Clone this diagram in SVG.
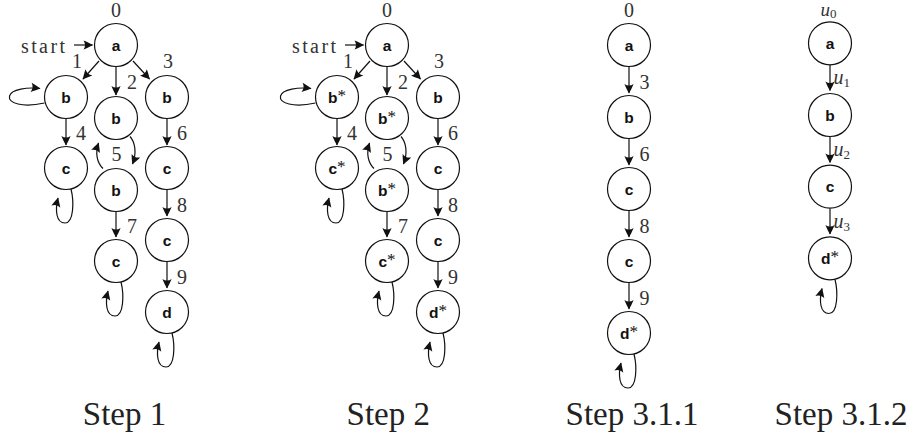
<svg xmlns="http://www.w3.org/2000/svg" width="919" height="441" viewBox="0 0 919 441">
  <defs>
    <marker id="arr" viewBox="-10 -6 11 12" refX="0" refY="0" markerWidth="11" markerHeight="12" markerUnits="userSpaceOnUse" orient="auto">
      <path d="M0.6 0 C-2 -1.2 -5.5 -3.3 -9 -4.6 C-7 -1.6 -7 1.6 -9 4.6 C-5.5 3.3 -2 1.2 0.6 0 Z" fill="#111"/>
    </marker>
  </defs>
  <style>
    .node circle { fill: #fff; stroke: #111; stroke-width: 1.2; }
    .node text { font-family: "Liberation Sans", Arial, sans-serif; font-weight: bold; font-size: 15.5px; text-anchor: middle; fill: #111; }
    .edge { fill: none; stroke: #111; stroke-width: 1.2; marker-end: url(#arr); }
    .star { font-family: "Liberation Serif", "Times New Roman", serif; font-weight: normal; font-size: 17px; }
    .num { font-family: "Liberation Serif", "Times New Roman", serif; font-size: 20px; text-anchor: middle; fill: #333; }
    .u { font-family: "Liberation Serif", "Times New Roman", serif; font-style: italic; font-size: 20px; fill: #333; }
    .sub { font-style: normal; font-size: 13px; }
    .cap { font-family: "Liberation Serif", "Times New Roman", serif; font-size: 33px; text-anchor: middle; fill: #222; }
  </style>
  <rect width="919" height="441" fill="#fff"/>

  <!-- Step 1 automaton -->
  <g id="step1">
    <g id="s1-connectors">
      <path class="edge" d="M74 45 L92.5 45"/>
      <path class="edge" d="M99 61 L83 79"/>
      <path class="edge" d="M116 66.5 L116 95"/>
      <path class="edge" d="M133 61 L149.5 79"/>
      <path class="edge" d="M66 118.5 L66 145"/>
      <path class="edge" d="M167 118.5 L167 145"/>
      <path class="edge" d="M130 136.5 C135 142 137 153 132.5 164"/>
      <path class="edge" d="M103 168.5 C97 163 95 153 98.5 143"/>
      <path class="edge" d="M167 189.5 L167 216"/>
      <path class="edge" d="M116 211.5 L116 237"/>
      <path class="edge" d="M167 261.5 L167 288"/>
      <path class="edge" d="M44.5 103 C22 108 8 103 9.5 96 C11 89 28 87 40 88.5"/>
      <path class="edge" transform="translate(66,168)" d="M5 21 C8 33 8 55 -1 55 C-10 55 -11 42 -8 30"/>
      <path class="edge" transform="translate(116,261)" d="M5 21 C8 33 8 55 -1 55 C-10 55 -11 42 -8 30"/>
      <path class="edge" transform="translate(167,312)" d="M5 21 C8 33 8 55 -1 55 C-10 55 -11 42 -8 30"/>
    </g>
    <g id="s1-labels">
      <text class="num" x="43" y="53" textLength="44">start</text>
      <text class="num" x="116" y="16.5">0</text>
      <text class="num" x="77" y="68">1</text>
      <text class="num" x="132" y="89">2</text>
      <text class="num" x="168" y="68">3</text>
      <text class="num" x="81" y="140">4</text>
      <text class="num" x="116.5" y="160.5">5</text>
      <text class="num" x="182" y="140">6</text>
      <text class="num" x="132" y="233">7</text>
      <text class="num" x="182" y="211.5">8</text>
      <text class="num" x="182" y="284">9</text>
    </g>
    <g id="s1-a" class="node"><circle cx="116" cy="45" r="21.5"/><text x="116" y="50.5">a</text></g>
    <g id="s1-b1" class="node"><circle cx="66" cy="97" r="21.5"/><text x="66" y="102.5">b</text></g>
    <g id="s1-b2" class="node"><circle cx="116" cy="118" r="21.5"/><text x="116" y="123.5">b</text></g>
    <g id="s1-b3" class="node"><circle cx="167" cy="97" r="21.5"/><text x="167" y="102.5">b</text></g>
    <g id="s1-c1" class="node"><circle cx="66" cy="168" r="21.5"/><text x="66" y="173.5">c</text></g>
    <g id="s1-b4" class="node"><circle cx="116" cy="190" r="21.5"/><text x="116" y="195.5">b</text></g>
    <g id="s1-c2" class="node"><circle cx="167" cy="168" r="21.5"/><text x="167" y="173.5">c</text></g>
    <g id="s1-c3" class="node"><circle cx="116" cy="261" r="21.5"/><text x="116" y="266.5">c</text></g>
    <g id="s1-c4" class="node"><circle cx="167" cy="240" r="21.5"/><text x="167" y="245.5">c</text></g>
    <g id="s1-d" class="node"><circle cx="167" cy="312" r="21.5"/><text x="167" y="317.5">d</text></g>
    <text class="cap" x="124.5" y="425">Step 1</text>
  </g>

  <!-- Step 2 automaton (same layout, starred states) -->
  <g id="step2" transform="translate(271,0)">
    <g id="s2-connectors">
      <path class="edge" d="M74 45 L92.5 45"/>
      <path class="edge" d="M99 61 L83 79"/>
      <path class="edge" d="M116 66.5 L116 95"/>
      <path class="edge" d="M133 61 L149.5 79"/>
      <path class="edge" d="M66 118.5 L66 145"/>
      <path class="edge" d="M167 118.5 L167 145"/>
      <path class="edge" d="M130 136.5 C135 142 137 153 132.5 164"/>
      <path class="edge" d="M103 168.5 C97 163 95 153 98.5 143"/>
      <path class="edge" d="M167 189.5 L167 216"/>
      <path class="edge" d="M116 211.5 L116 237"/>
      <path class="edge" d="M167 261.5 L167 288"/>
      <path class="edge" d="M44.5 103 C22 108 8 103 9.5 96 C11 89 28 87 40 88.5"/>
      <path class="edge" transform="translate(66,168)" d="M5 21 C8 33 8 55 -1 55 C-10 55 -11 42 -8 30"/>
      <path class="edge" transform="translate(116,261)" d="M5 21 C8 33 8 55 -1 55 C-10 55 -11 42 -8 30"/>
      <path class="edge" transform="translate(167,312)" d="M5 21 C8 33 8 55 -1 55 C-10 55 -11 42 -8 30"/>
    </g>
    <g id="s2-labels">
      <text class="num" x="43" y="53" textLength="44">start</text>
      <text class="num" x="116" y="16.5">0</text>
      <text class="num" x="77" y="68">1</text>
      <text class="num" x="132" y="89">2</text>
      <text class="num" x="168" y="68">3</text>
      <text class="num" x="81" y="140">4</text>
      <text class="num" x="116.5" y="160.5">5</text>
      <text class="num" x="182" y="140">6</text>
      <text class="num" x="132" y="233">7</text>
      <text class="num" x="182" y="211.5">8</text>
      <text class="num" x="182" y="284">9</text>
    </g>
    <g id="s2-a" class="node"><circle cx="116" cy="45" r="21.5"/><text x="116" y="50.5">a</text></g>
    <g id="s2-b1" class="node"><circle cx="66" cy="97" r="21.5"/><text x="66" y="102.5">b<tspan class="star" dy="-2">*</tspan></text></g>
    <g id="s2-b2" class="node"><circle cx="116" cy="118" r="21.5"/><text x="116" y="123.5">b<tspan class="star" dy="-2">*</tspan></text></g>
    <g id="s2-b3" class="node"><circle cx="167" cy="97" r="21.5"/><text x="167" y="102.5">b</text></g>
    <g id="s2-c1" class="node"><circle cx="66" cy="168" r="21.5"/><text x="66" y="173.5">c<tspan class="star" dy="-2">*</tspan></text></g>
    <g id="s2-b4" class="node"><circle cx="116" cy="190" r="21.5"/><text x="116" y="195.5">b<tspan class="star" dy="-2">*</tspan></text></g>
    <g id="s2-c2" class="node"><circle cx="167" cy="168" r="21.5"/><text x="167" y="173.5">c</text></g>
    <g id="s2-c3" class="node"><circle cx="116" cy="261" r="21.5"/><text x="116" y="266.5">c<tspan class="star" dy="-2">*</tspan></text></g>
    <g id="s2-c4" class="node"><circle cx="167" cy="240" r="21.5"/><text x="167" y="245.5">c</text></g>
    <g id="s2-d" class="node"><circle cx="167" cy="312" r="21.5"/><text x="167" y="317.5">d<tspan class="star" dy="-2">*</tspan></text></g>
    <text class="cap" x="117.3" y="425">Step 2</text>
  </g>

  <!-- Step 3.1.1: single path -->
  <g id="step311">
    <g id="s311-connectors">
      <path class="edge" d="M629 66.5 L629 93"/>
      <path class="edge" d="M629 138.5 L629 165"/>
      <path class="edge" d="M629 210.5 L629 237"/>
      <path class="edge" d="M629 282.5 L629 309"/>
      <path class="edge" transform="translate(629,333)" d="M5 21 C8 33 8 55 -1 55 C-10 55 -11 42 -8 30"/>
    </g>
    <g id="s311-labels">
      <text class="num" x="629" y="16.5">0</text>
      <text class="num" x="644.5" y="89">3</text>
      <text class="num" x="644.5" y="161">6</text>
      <text class="num" x="644.5" y="233">8</text>
      <text class="num" x="644.5" y="305">9</text>
    </g>
    <g id="s311-a" class="node"><circle cx="629" cy="45" r="21.5"/><text x="629" y="50.5">a</text></g>
    <g id="s311-b" class="node"><circle cx="629" cy="117" r="21.5"/><text x="629" y="122.5">b</text></g>
    <g id="s311-c1" class="node"><circle cx="629" cy="189" r="21.5"/><text x="629" y="194.5">c</text></g>
    <g id="s311-c2" class="node"><circle cx="629" cy="261" r="21.5"/><text x="629" y="266.5">c</text></g>
    <g id="s311-d" class="node"><circle cx="629" cy="333" r="21.5"/><text x="629" y="338.5">d<tspan class="star" dy="-2">*</tspan></text></g>
    <text class="cap" x="632" y="425">Step 3.1.1</text>
  </g>

  <!-- Step 3.1.2: path with symbolic labels -->
  <g id="step312">
    <g id="s312-connectors">
      <path class="edge" d="M830 65 L830 90.5"/>
      <path class="edge" d="M830 136.5 L830 162.5"/>
      <path class="edge" d="M830 208.5 L830 234"/>
      <path class="edge" transform="translate(830,258.5)" d="M5 21 C8 33 8 55 -1 55 C-10 55 -11 42 -8 30"/>
    </g>
    <g id="s312-labels">
      <text class="u" x="820.5" y="16" style="font-size:19px">u<tspan class="sub" dy="2.3">0</tspan></text>
      <text class="u" x="833.5" y="84.3">u<tspan class="sub" dy="2.8">1</tspan></text>
      <text class="u" x="833.5" y="156">u<tspan class="sub" dy="2.8">2</tspan></text>
      <text class="u" x="833.5" y="227.7">u<tspan class="sub" dy="2.8">3</tspan></text>
    </g>
    <g id="s312-a" class="node"><circle cx="830" cy="43.3" r="21.5"/><text x="830" y="48.8">a</text></g>
    <g id="s312-b" class="node"><circle cx="830" cy="115" r="21.5"/><text x="830" y="120.5">b</text></g>
    <g id="s312-c" class="node"><circle cx="830" cy="186.7" r="21.5"/><text x="830" y="192.2">c</text></g>
    <g id="s312-d" class="node"><circle cx="830" cy="258.3" r="21.5"/><text x="830" y="263.8">d<tspan class="star" dy="-2">*</tspan></text></g>
    <text class="cap" x="841" y="425">Step 3.1.2</text>
  </g>
</svg>
